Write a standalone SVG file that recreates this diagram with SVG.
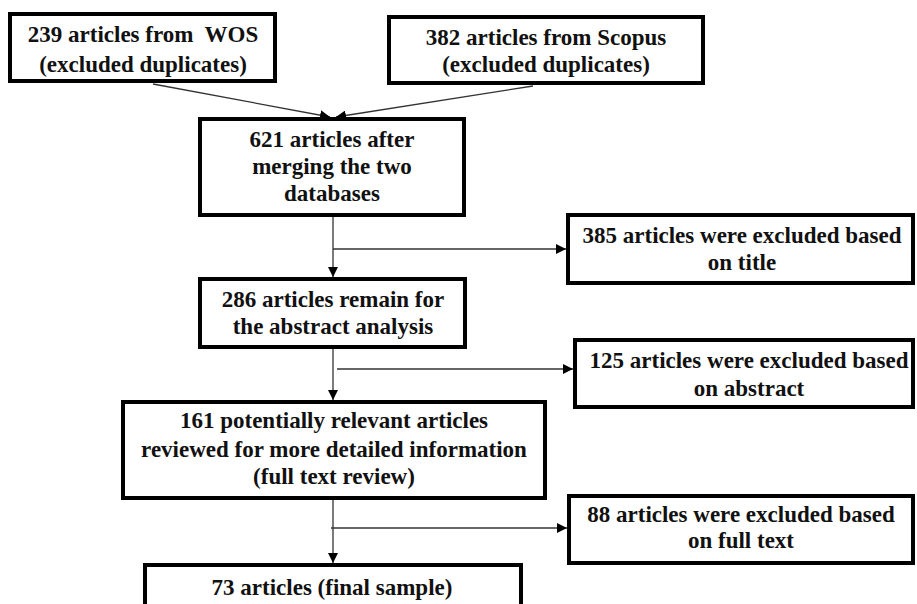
<svg xmlns="http://www.w3.org/2000/svg" width="917" height="604" viewBox="0 0 917 604">
<style>
.box{fill:#fff;stroke:#000;stroke-width:4}
.t{font-family:"Liberation Serif","Times New Roman",serif;font-weight:bold;font-size:23px;fill:#111;text-anchor:middle}
.c{stroke:#333;stroke-width:1.3;fill:none;marker-end:url(#ah)}
</style>
<defs>
<marker id="ah" markerUnits="userSpaceOnUse" markerWidth="10" markerHeight="10" viewBox="0 0 10 10" refX="10" refY="5" orient="auto">
<path d="M0,0 L10,5 L0,10 z" fill="#000"/>
</marker>
</defs>
<rect width="917" height="604" fill="#fff"/>
<g id="connectors">
<line class="c" x1="153" y1="84" x2="330" y2="117"/>
<line class="c" x1="533" y1="86" x2="336" y2="117"/>
<line class="c" x1="333" y1="217" x2="333" y2="277"/>
<line class="c" x1="333" y1="249" x2="566" y2="249"/>
<line class="c" x1="333" y1="349" x2="333" y2="400"/>
<line class="c" x1="337" y1="369" x2="573" y2="369"/>
<line class="c" x1="333" y1="500" x2="333" y2="563"/>
<line class="c" x1="331" y1="528" x2="567" y2="528"/>
</g>
<g id="wos">
<rect class="box" x="10" y="14" width="265" height="67"/>
<text class="t" x="143" y="42" xml:space="preserve">239 articles from  WOS</text>
<text class="t" x="143" y="72">(excluded duplicates)</text>
</g>
<g id="scopus">
<rect class="box" x="389" y="17" width="314" height="66"/>
<text class="t" x="546" y="45">382 articles from Scopus</text>
<text class="t" x="546" y="72">(excluded duplicates)</text>
</g>
<g id="merged">
<rect class="box" x="200" y="119" width="264" height="96"/>
<text class="t" x="332" y="147">621 articles after</text>
<text class="t" x="332" y="174">merging the two</text>
<text class="t" x="332" y="201">databases</text>
</g>
<g id="excl-title">
<rect class="box" x="568" y="215" width="345" height="68"/>
<text class="t" x="742" y="243">385 articles were excluded based</text>
<text class="t" x="742" y="270">on title</text>
</g>
<g id="abstract">
<rect class="box" x="200" y="279" width="265" height="68"/>
<text class="t" x="333" y="307">286 articles remain for</text>
<text class="t" x="333" y="334">the abstract analysis</text>
</g>
<g id="excl-abstract">
<rect class="box" x="575" y="340" width="338" height="67"/>
<text class="t" x="749" y="368">125 articles were excluded based</text>
<text class="t" x="749" y="396">on abstract</text>
</g>
<g id="fulltext">
<rect class="box" x="123" y="402" width="422" height="96"/>
<text class="t" x="334" y="428">161 potentially relevant articles</text>
<text class="t" x="334" y="457">reviewed for more detailed information</text>
<text class="t" x="334" y="484">(full text review)</text>
</g>
<g id="excl-fulltext">
<rect class="box" x="569" y="496" width="344" height="67"/>
<text class="t" x="741" y="522">88 articles were excluded based</text>
<text class="t" x="741" y="548">on full text</text>
</g>
<g id="final">
<rect class="box" x="145" y="565" width="376" height="60"/>
<text class="t" x="332" y="595">73 articles (final sample)</text>
</g>
</svg>
